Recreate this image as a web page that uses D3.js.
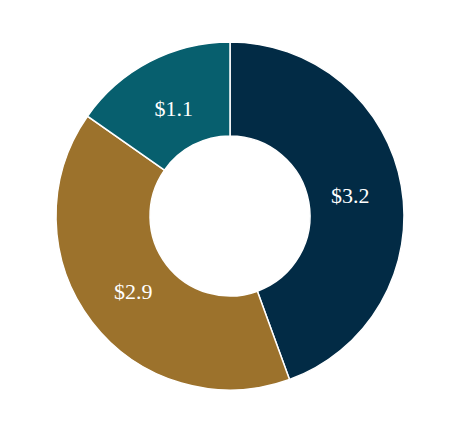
<!DOCTYPE html>
<html>
<head>
<meta charset="utf-8">
<script src="https://cdn.jsdelivr.net/npm/d3@7"></script>
<style>
  body { margin: 0; background: #fff; }
</style>
</head>
<body>
<div class="chart"></div>
<script>
var labels = ['$3.2', '$2.9', '$1.1']
var values = [3.2, 2.9, 1.1]
var colors = ['#022b45', '#9c722c', '#075f6e']

var width = 458
var height = 430
var outer = 174
var inner = 80

var svg = d3.select('.chart')
  .append('svg')
  .attr('width', width)
  .attr('height', height)

var g = svg.append('g')
  .attr('transform', 'translate(230,216)')

var pie = d3.pie().sort(null)
var arc = d3.arc().innerRadius(inner).outerRadius(outer)
// labels sit a little inside the ring's middle
var labelArc = d3.arc().innerRadius(122).outerRadius(122)

var arcs = pie(values)

g.selectAll('path')
  .data(arcs)
  .enter()
  .append('path')
  .attr('d', arc)
  .attr('fill', function(d, i) { return colors[i] })
  .attr('stroke', '#fff')
  .attr('stroke-width', 1.5)

g.selectAll('text')
  .data(arcs)
  .enter()
  .append('text')
  .attr('transform', function(d) { return 'translate(' + labelArc.centroid(d) + ')' })
  .attr('text-anchor', 'middle')
  .attr('dy', '0.38em')
  .attr('fill', '#fff')
  .style('font-family', '"Liberation Serif", "Times New Roman", serif')
  .style('font-size', '22px')
  .text(function(d, i) { return labels[i] })
</script>
</body>
</html>
